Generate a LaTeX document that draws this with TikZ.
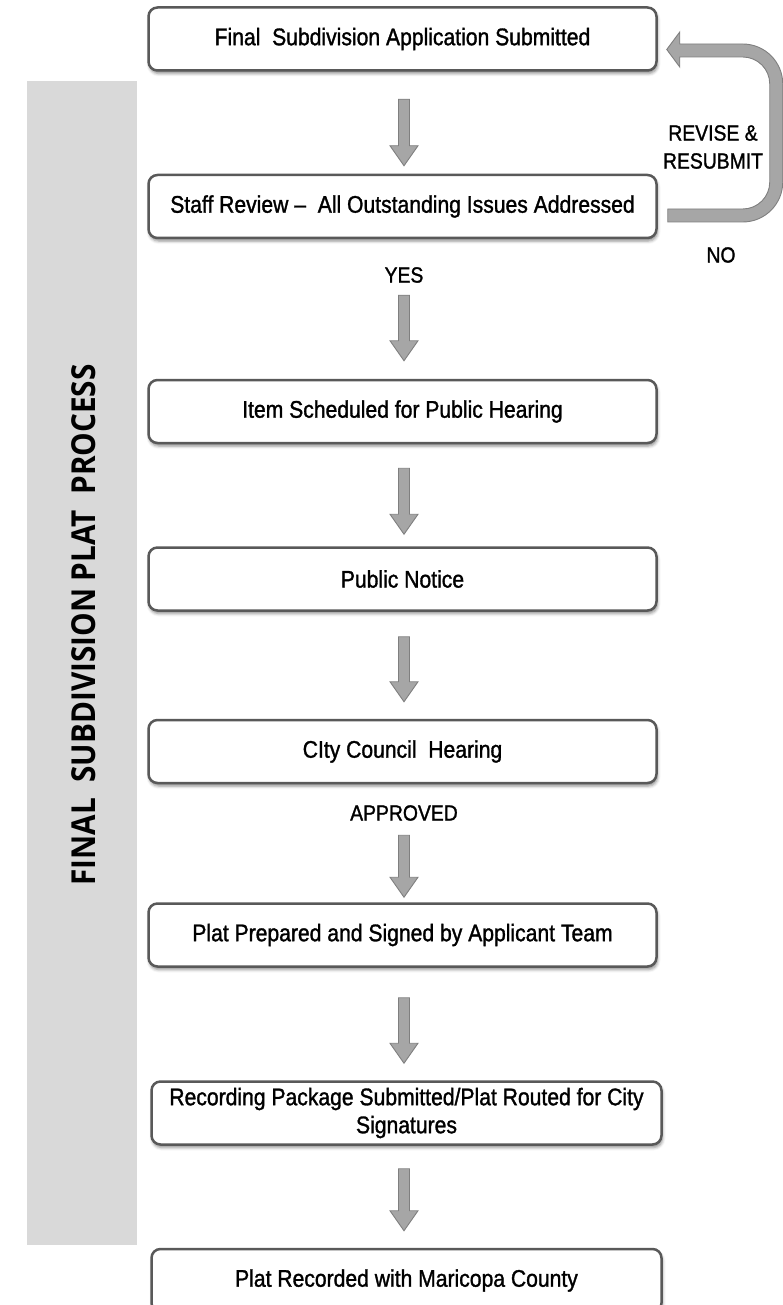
\documentclass[tikz,border=0pt]{standalone}
\usepackage{fontspec}
\setmainfont{Liberation Sans}[FakeStretch=0.88, FakeBold=1.3]
\newfontfamily\titlefont{Open Sans}[FakeStretch=0.9]
\usetikzlibrary{calc,shadows,shadows.blur}

\definecolor{sidegray}{HTML}{D9D9D9}
\definecolor{boxline}{HTML}{595959}
\definecolor{arrowfill}{HTML}{A6A6A6}
\definecolor{arrowline}{HTML}{7F7F7F}

\tikzset{
  stepbox/.style={draw=boxline, line width=2.5pt, rounded corners=9pt, fill=white,
    minimum width=508pt, minimum height=63pt, inner sep=0pt, align=center,
    font=\fontsize{24}{28}\selectfont,
    blur shadow={shadow xshift=1pt, shadow yshift=-3pt, shadow blur radius=3pt, shadow opacity=45}},
  widebox/.style={stepbox, minimum width=510pt},
  decision/.style={font=\fontsize{22}{28}\selectfont, align=center, inner sep=0pt},
  blockarrow/.style={fill=arrowfill, draw=arrowline, line width=0.9pt,
    to path={let \p1=(\tikztostart), \p2=(\tikztotarget) in
      (\x1-5.5pt,\y1) -- (\x1+5.5pt,\y1) -- (\x1+5.5pt,\y2+20pt) -- (\x1+14pt,\y2+20pt)
      -- (\x1,\y2) -- (\x1-14pt,\y2+20pt) -- (\x1-5.5pt,\y2+20pt) -- cycle}},
  looparrow/.style={fill=arrowfill, draw=arrowline, line width=0.9pt, line join=miter}
}

\begin{document}
\begin{tikzpicture}[x=1pt,y=-1pt]
  \useasboundingbox (0,0) rectangle (783,1305);
  \clip (0,0) rectangle (783,1305);

  % side banner
  \node[fill=sidegray, minimum width=110pt, minimum height=1164pt, inner sep=0pt] (side) at (82,663) {};
  \node[rotate=90, font=\titlefont\bfseries\fontsize{33}{36}\selectfont] (title) at (84,625)
    {FINAL\ \ SUBDIVISION PLAT\ \ PROCESS};

  % process steps
  \node[stepbox] (b1) at (402.5,39)    {Final\ \ Subdivision Application Submitted};
  \node[stepbox] (b2) at (402.5,206.5) {Staff Review –\ \ All Outstanding Issues Addressed};
  \node[stepbox] (b3) at (402.5,411.5) {Item Scheduled for Public Hearing};
  \node[stepbox] (b4) at (402.5,579)   {Public Notice};
  \node[stepbox] (b5) at (402.5,751.5) {CIty Council\ \ Hearing};
  \node[stepbox] (b6) at (402.5,935)   {Plat Prepared and Signed by Applicant Team};
  \node[widebox] (b7) at (406.5,1113) {Recording Package Submitted/Plat Routed for City\\Signatures};
  \node[widebox] (b8) at (406.5,1280.5) {Plat Recorded with Maricopa County};

  % decision labels
  \node[decision] (yes) at (404,275) {YES};
  \node[decision] (approved) at (404,813) {APPROVED};
  \node[decision] (revise) at (713,147) {REVISE \&\\RESUBMIT};
  \node[decision] (no) at (721,255) {NO};

  % downward block arrows between steps
  \draw[blockarrow] ([shift={(1.5,27.5)}]b1.south) to ([shift={(1.5,-8)}]b2.north);
  \draw[blockarrow] ([shift={(1.5,56)}]b2.south)   to ([shift={(1.5,-18)}]b3.north);
  \draw[blockarrow] ([shift={(1.5,24)}]b3.south)   to ([shift={(1.5,-12)}]b4.north);
  \draw[blockarrow] ([shift={(1.5,25)}]b4.south)   to ([shift={(1.5,-17)}]b5.north);
  \draw[blockarrow] ([shift={(1.5,51)}]b5.south)   to ([shift={(1.5,-5)}]b6.north);
  \draw[blockarrow] ([shift={(1.5,30)}]b6.south)   to ([shift={(-2.5,-17)}]b7.north);
  \draw[blockarrow] ([shift={(-2.5,23)}]b7.south)  to ([shift={(-2.5,-17)}]b8.north);

  % return loop from the review step back to the application
  \coordinate (loopstart) at ([shift={(10,15.5)}]b2.east);
  \draw[looparrow] (loopstart) -- ++(75,0)
    arc[start angle=90, end angle=0, radius=40] -- ++(0,-98)
    arc[start angle=0, end angle=-90, radius=40] -- ++(-63,0)
    -- ++(0,-12) -- ++(-13,17.5) -- ++(13,17.5) -- ++(0,-10) -- ++(63,0)
    arc[start angle=-90, end angle=0, radius=27] -- ++(0,98)
    arc[start angle=0, end angle=90, radius=27] -- ++(-75,0) -- cycle;
\end{tikzpicture}
\end{document}
